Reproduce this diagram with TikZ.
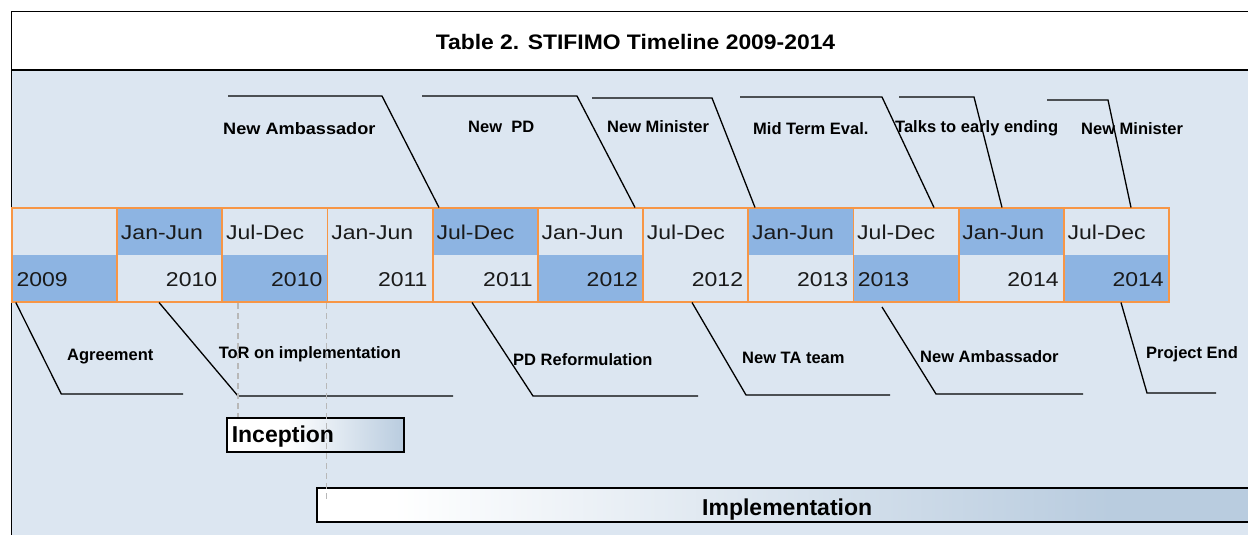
\documentclass[tikz,border=0pt]{standalone}
\usepackage{fontspec}
\setmainfont{Liberation Sans}
\definecolor{bgblue}{HTML}{DCE6F1}
\definecolor{cellblue}{HTML}{8DB4E2}
\definecolor{orangeline}{HTML}{F79646}
\definecolor{barblue}{HTML}{B9CCDF}
\definecolor{dashgrey}{HTML}{B8B8B8}
\definecolor{txt}{HTML}{1A1A1A}
\newcommand{\cellstr}[1]{\scalebox{1.15}[1]{#1}}
\pgfdeclarehorizontalshading{incshade}{100bp}{color(0bp)=(white); color(25bp)=(white); color(42bp)=(white); color(75bp)=(barblue); color(100bp)=(barblue)}
\pgfdeclarehorizontalshading{impshade}{100bp}{color(0bp)=(white); color(25bp)=(white); color(29bp)=(white); color(67bp)=(barblue); color(100bp)=(barblue)}
\tikzset{
  celltxt/.style={font=\fontsize{20}{24}\selectfont, inner sep=0pt, text=txt},
  lbl/.style={font=\bfseries\fontsize{16.5}{20}\selectfont, anchor=base west, inner sep=0pt, text=black},
  bartxt/.style={font=\bfseries\fontsize{23}{27}\selectfont, anchor=base west, inner sep=0pt, text=black},
  callout/.style={draw=black, line width=1.3pt},
  dashline/.style={draw=dashgrey, line width=1.7pt, dash pattern=on 6pt off 4pt},
  orangegrid/.style={draw=orangeline, line width=1.8pt},
}
\begin{document}
\begin{tikzpicture}[x=1pt,y=-1pt]
\useasboundingbox (0,0) rectangle (1248,535);
% frame and background
\fill[bgblue] (11.5,70) rectangle (1252,540);
\draw[line width=1pt] (11.5,540) -- (11.5,11.5) -- (1252,11.5);
\draw[line width=2pt] (11.5,70) -- (1252,70);
\node[font=\bfseries\fontsize{21}{25}\selectfont, anchor=base, inner sep=0pt] (title) at (635.5,49.3) {\scalebox{1.09}[1]{Table 2. STIFIMO Timeline 2009-2014}};
% table cell fills
\foreach \i in {1,4,7,9} \fill[cellblue] ({12+105.18*\i},208) rectangle ({12+105.18*(\i+1)},255);
\foreach \i in {0,2,5,8,10} \fill[cellblue] ({12+105.18*\i},255) rectangle ({12+105.18*(\i+1)},302);
% table texts
\foreach \i/\t in {1/Jan-Jun,2/Jul-Dec,3/Jan-Jun,4/Jul-Dec,5/Jan-Jun,6/Jul-Dec,7/Jan-Jun,8/Jul-Dec,9/Jan-Jun,10/Jul-Dec}
  \node[celltxt, anchor=base west] (top\i) at ({12+105.18*\i+3.6},239.3) {\cellstr{\t}};
\foreach \i/\t in {1/2010,2/2010,3/2011,4/2011,5/2012,6/2012,7/2013,9/2014,10/2014}
  \node[celltxt, anchor=base east] (bot\i) at ({12+105.18*(\i+1)-5},286.7) {\cellstr{\t}};
\foreach \i/\t in {0/2009,8/2013}
  \node[celltxt, anchor=base west] (bot\i) at ({12+105.18*\i+4.3},286.7) {\cellstr{\t}};
% orange grid
\draw[orangegrid] (12,208) rectangle (1169,302);
\foreach \i in {1,...,10} \draw[orangegrid] ({12+105.18*\i},208) -- ({12+105.18*\i},302);
% top callouts
\foreach \n/\a/\b/\y/\c in {1/228/382/96/439, 2/422/577/96/635, 3/592/712/98/755, 4/740/882/97/934, 5/899/974/97/1002, 6/1047/1108/100/1131}{
  \coordinate (ta\n) at (\a,\y);
  \coordinate (tb\n) at (\b,\y);
  \coordinate (tc\n) at (\c,207.5);
  \draw[callout] (ta\n) -- (tb\n) -- (tc\n);
}
\node[lbl] (l1) at (223,134.3) {\scalebox{1.1}[1]{New Ambassador}};
\node[lbl] (l2) at (468,132.3) {New\ \ PD};
\node[lbl] (l3) at (607,132.3) {New Minister};
\node[lbl] (l4) at (753,134.3) {Mid Term Eval.};
\node[lbl] (l5) at (895,132.3) {Talks to early ending};
\node[lbl] (l6) at (1081,134.3) {New Minister};
% bottom callouts
\foreach \n/\a/\b/\c/\y/\s in {1/15.8/61.3/183/394/302.5, 2/159/238/453/396/302.5, 3/472/533/698/396/302.5, 4/692/746/890/395/302.5, 5/882/936/1083/394/307, 6/1121/1147/1216/393/302.5}{
  \coordinate (ba\n) at (\a,\s);
  \coordinate (bb\n) at (\b,\y);
  \coordinate (bc\n) at (\c,\y);
  \draw[callout] (ba\n) -- (bb\n) -- (bc\n);
}
\node[lbl] (m1) at (67,360) {Agreement};
\node[lbl] (m2) at (218.6,358.3) {ToR on implementation};
\node[lbl] (m3) at (513,365) {PD Reformulation};
\node[lbl] (m4) at (742,363.3) {New TA team};
\node[lbl] (m5) at (920,362.3) {New Ambassador};
\node[lbl] (m6) at (1146,358.3) {Project End};
% phase bars
\shade[shading=incshade, draw=black, line width=1.5pt] (227,418) rectangle (404,452);
\node[bartxt] (inc) at (231.6,442.7) {Inception};
\shade[shading=impshade, draw=black, line width=2pt] (317,488) rectangle (1262,522);
\node[bartxt] (imp) at (702,515) {Implementation};
% dashed guides
\coordinate (d1a) at (238,303);
\coordinate (d1b) at (238,417);
\coordinate (d2a) at (326.5,303);
\coordinate (d2b) at (326.5,501);
\draw[dashline] (d1a) -- (d1b);
\draw[dashline] (d2a) -- (d2b);
\end{tikzpicture}
\end{document}
